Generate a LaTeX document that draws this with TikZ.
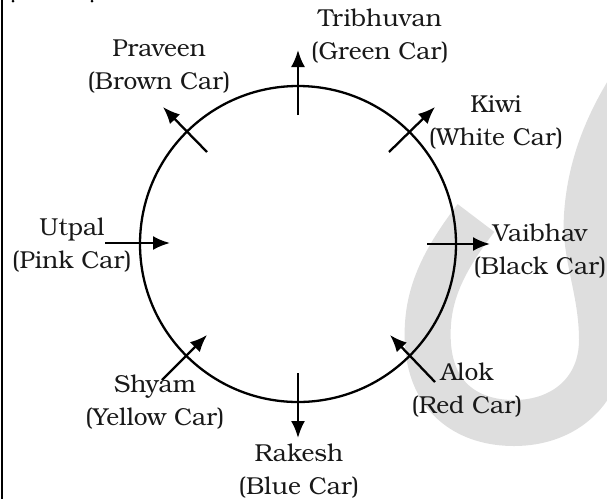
\documentclass[tikz,border=0pt]{standalone}
\usepackage{fontspec}
\setmainfont{texgyrebonum-regular.otf}
\usetikzlibrary{arrows.meta}
\definecolor{wm}{HTML}{DEDEDE}
\tikzset{
  ring/.style={draw, circle, line width=2.3pt, minimum size=316pt, inner sep=0pt},
  carrow/.style={line width=2.3pt, -{Latex[length=17pt,width=14pt]}},
  lbl/.style={align=center, font=\fontsize{24.5}{33}\selectfont, inner sep=0pt, text=black!90},
}
\begin{document}
\begin{tikzpicture}[x=1pt,y=-1pt]
\useasboundingbox (0,0) rectangle (607,499);
% watermark
\draw[wm, line width=46pt] (476,218) .. controls (440,265) and (425,300) .. (428,345)
  .. controls (432,400) and (470,423) .. (514,423)
  .. controls (565,423) and (602,390) .. (602,340)
  .. controls (602,290) and (584,255) .. (587,215)
  .. controls (590,170) and (605,130) .. (628,92);
% left rule
\draw[line width=2pt] (1.5,0) -- (1.5,499);
\fill (13,1) circle (1.5pt);
\fill (92,1) circle (1.5pt);
% circle
\node[ring] (c) at (298,244) {};
% arrow endpoints
\coordinate (t1) at (298,115); \coordinate (t2) at (298,50);
\coordinate (k1) at (389,152); \coordinate (k2) at (435,107);
\coordinate (v1) at (427,244); \coordinate (v2) at (490,244);
\coordinate (a1) at (435,382); \coordinate (a2) at (390,335);
\coordinate (r1) at (298,373); \coordinate (r2) at (298,438);
\coordinate (s1) at (162,380); \coordinate (s2) at (207,335);
\coordinate (u1) at (105,243); \coordinate (u2) at (170,243);
\coordinate (p1) at (207,152); \coordinate (p2) at (163,107);
\draw[carrow] (t1) -- (t2);
\draw[carrow] (k1) -- (k2);
\draw[carrow] (v1) -- (v2);
\draw[carrow] (a1) -- (a2);
\draw[carrow] (r1) -- (r2);
\draw[carrow] (s1) -- (s2);
\draw[carrow] (u1) -- (u2);
\draw[carrow] (p1) -- (p2);
% labels
\node[lbl] (lt) at (380,36) {Tribhuvan\\(Green Car)};
\node[lbl] (lp) at (159,67) {Praveen\\(Brown Car)};
\node[lbl] (lk) at (496,122) {Kiwi\\(White Car)};
\node[lbl] (lv) at (540,251) {Vaibhav\\(Black Car)};
\node[lbl] (la) at (467,390) {Alok\\(Red Car)};
\node[lbl] (lr) at (299,471) {Rakesh\\(Blue Car)};
\node[lbl] (ls) at (155,402) {Shyam\\(Yellow Car)};
\node[lbl] (lu) at (72,245) {Utpal\\(Pink Car)};
\end{tikzpicture}
\end{document}
